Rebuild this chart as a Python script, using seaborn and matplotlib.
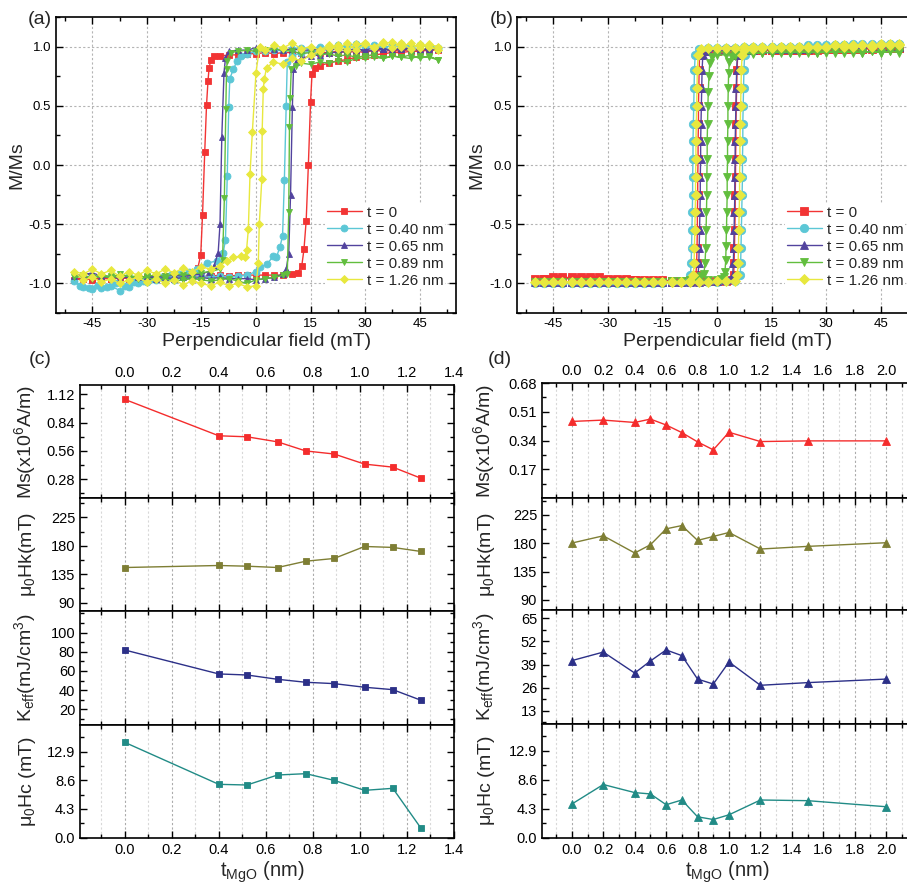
import matplotlib
matplotlib.use('Agg')
import matplotlib.pyplot as plt
import seaborn as sns
from matplotlib.ticker import MultipleLocator, FixedLocator, FormatStrFormatter

# ---------------- panel (a): loops, field in mT, M/Ms ----------------
A_RED_H = [50, 47.5, 45, 42.5, 40, 37.5, 35, 32.5, 30, 27.5, 25, 22.5, 20, 17.5, 15, 12.5, 10, 7.5, 5, 2.5, 0, -2.5, -5, -7.5, -10,
           -11.5, -12.4, -12.9, -13.2, -13.6, -14.1, -14.7, -15.2, -16,
           -17.5, -20, -22.5, -25, -27.5, -30, -32.5, -35, -37.5, -40, -42.5, -45, -47.5, -50,
           -47.5, -45, -42.5, -40, -37.5, -35, -32.5, -30, -27.5, -25, -22.5, -20, -17.5, -15, -12.5, -10, -7.5, -5, -2.5, 0, 2.5, 5, 7.5, 10,
           11.5, 12.6, 13.2, 13.8, 14.4, 15.0, 15.4, 16.3,
           17.5, 20, 22.5, 25, 27.5, 30, 32.5, 35, 37.5, 40, 42.5, 45, 47.5, 50]
A_RED_M = [0.98, 0.99, 0.97, 0.98, 0.96, 0.97, 0.96, 0.97, 0.95, 0.96, 0.95, 0.96, 0.95, 0.95, 0.96, 0.95, 0.95, 0.95, 0.94, 0.95, 0.94, 0.94, 0.93, 0.93, 0.92,
           0.92, 0.89, 0.82, 0.71, 0.51, 0.11, -0.42, -0.76, -0.87,
           -0.91, -0.93, -0.94, -0.95, -0.95, -0.96, -0.95, -0.96, -0.95, -0.96, -0.95, -0.96, -0.95, -0.97,
           -0.96, -0.97, -0.96, -0.96, -0.95, -0.96, -0.95, -0.95, -0.95, -0.94, -0.95, -0.94, -0.94, -0.94, -0.94, -0.93, -0.94, -0.93, -0.93, -0.93, -0.93, -0.93, -0.93, -0.92,
           -0.91, -0.85, -0.71, -0.47, 0.0, 0.53, 0.77, 0.82,
           0.84, 0.86, 0.88, 0.89, 0.91, 0.92, 0.93, 0.94, 0.95, 0.95, 0.96, 0.96, 0.97, 0.97]

A_CYAN_H = [50, 47.5, 45, 42.5, 40, 37.5, 35, 32.5, 30, 27.5, 25, 22.5, 20, 17.5, 15, 12.5, 10, 7.5, 5, 2.5, 0,
            -2.5, -4, -5.2, -6.2, -7.2, -7.5, -7.9, -8.4, -9.0, -10.8, -13.6, -16.3,
            -18.5, -21, -23.5, -26, -28.5, -31, -33.5, -36, -38.5, -41, -43.5, -46, -48.5, -50,
            -47.5, -45, -42.5, -40, -37.5, -35, -32.5, -30, -27.5, -25, -22.5, -20, -17.5, -15, -12.5, -10, -7.5, -5, -2.5, 0,
            1.1, 2.9, 4.8, 5.6, 6.6, 7.3, 7.8, 8.3, 8.6,
            10, 12.5, 15, 17.5, 20, 22.5, 25, 27.5, 30, 32.5, 35, 37.5, 40, 42.5, 45, 47.5, 50]
A_CYAN_M = [0.99, 1.0, 1.01, 0.99, 1.0, 1.01, 0.99, 1.0, 1.02, 0.99, 1.0, 1.01, 0.99, 1.0, 0.98, 0.99, 0.98, 0.97, 0.97, 0.96, 0.96,
            0.94, 0.92, 0.88, 0.81, 0.73, 0.49, -0.09, -0.63, -0.74, -0.81, -0.83, -0.88,
            -0.9, -0.92, -0.93, -0.95, -0.96, -0.98, -0.99, -1.02, -1.0, -1.03, -1.01, -1.04, -1.02, -0.98,
            -1.03, -1.05, -1.04, -1.02, -1.06, -1.03, -1.0, -0.99, -0.97, -0.96, -0.97, -0.95, -0.95, -0.94, -0.95, -0.94, -0.95, -0.94, -0.93, -0.9,
            -0.86, -0.84, -0.77, -0.78, -0.69, -0.6, -0.13, 0.5, 0.87,
            0.92, 0.95, 0.96, 0.97, 0.99, 1.0, 1.01, 1.02, 1.0, 1.01, 0.99, 1.01, 1.02, 1.0, 1.01, 1.0, 0.99]

A_PURPLE_H = [50, 47.5, 45, 42.5, 40, 37.5, 35, 32.5, 30, 27.5, 25, 22.5, 20, 17.5, 15, 12.5, 10, 7.5, 5, 2.5, 0, -2.5, -5, -7.5,
              -8.4, -8.8, -9.4, -9.9, -10.4, -11.5, -13,
              -15, -17.5, -20, -22.5, -25, -27.5, -30, -32.5, -35, -37.5, -40, -42.5, -45, -47.5, -50,
              -47.5, -45, -42.5, -40, -37.5, -35, -32.5, -30, -27.5, -25, -22.5, -20, -17.5, -15, -12.5, -10, -7.5, -5, -2.5, 0, 2.5, 5, 7.5,
              8.3, 9.0, 9.5, 10.0, 10.3, 11,
              12.5, 15, 17.5, 20, 22.5, 25, 27.5, 30, 32.5, 35, 37.5, 40, 42.5, 45, 47.5, 50]
A_PURPLE_M = [0.98, 0.99, 0.97, 0.98, 0.99, 0.97, 0.98, 0.99, 0.97, 0.98, 0.97, 0.98, 0.97, 0.98, 0.97, 0.97, 0.98, 0.97, 0.98, 0.98, 0.99, 0.97, 0.97, 0.96,
              0.9, 0.78, 0.24, -0.5, -0.74, -0.85, -0.9,
              -0.92, -0.93, -0.94, -0.93, -0.94, -0.94, -0.95, -0.94, -0.95, -0.93, -0.95, -0.94, -0.91, -0.93, -0.94,
              -0.92, -0.93, -0.95, -0.94, -0.96, -0.94, -0.95, -0.94, -0.96, -0.95, -0.96, -0.95, -0.96, -0.95, -0.96, -0.95, -0.96, -0.96, -0.96, -0.97, -0.96, -0.95, -0.92,
              -0.88, -0.75, -0.25, 0.49, 0.81, 0.87,
              0.9, 0.92, 0.93, 0.95, 0.95, 0.96, 0.97, 0.96, 0.97, 0.98, 0.97, 0.98, 0.97, 0.98, 0.97, 0.98]

A_GREEN_H = [50, 47.5, 45, 42.5, 40, 37.5, 35, 32.5, 30, 27.5, 25, 22.5, 20, 17.5, 15, 12.5, 10, 7.5, 5, 2.5, 0, -2.5, -5,
             -7, -7.9, -8.1, -8.3, -8.7, -9.2, -10,
             -12.5, -15, -17.5, -20, -22.5, -25, -27.5, -30, -32.5, -35, -37.5, -40, -42.5, -45, -47.5, -50,
             -47.5, -45, -42.5, -40, -37.5, -35, -32.5, -30, -27.5, -25, -22.5, -20, -17.5, -15, -12.5, -10, -7.5, -5, -2.5, 0, 2.5, 5, 7.5,
             8.6, 9.0, 9.2, 9.4, 9.7, 11,
             12.5, 15, 17.5, 20, 22.5, 25, 27.5, 30, 32.5, 35, 37.5, 40, 42.5, 45, 47.5, 50]
A_GREEN_M = [0.89, 0.92, 0.9, 0.93, 0.91, 0.92, 0.9, 0.93, 0.92, 0.91, 0.93, 0.92, 0.94, 0.93, 0.95, 0.94, 0.96, 0.97, 0.98, 0.97, 0.96, 0.97, 0.96,
             0.95, 0.88, 0.81, 0.47, -0.28, -0.8, -0.88,
             -0.9, -0.91, -0.92, -0.93, -0.92, -0.94, -0.93, -0.94, -0.95, -0.93, -0.95, -0.94, -0.93, -0.95, -0.94, -0.95,
             -0.93, -0.96, -0.94, -0.95, -0.92, -0.94, -0.96, -0.95, -0.97, -0.96, -0.98, -0.97, -0.96, -0.97, -0.98, -0.97, -0.96, -0.98, -1.0, -0.97, -0.96, -0.95, -0.93,
             -0.92, -0.4, 0.32, 0.57, 0.81, 0.84,
             0.86, 0.85, 0.87, 0.86, 0.88, 0.87, 0.9, 0.9, 0.91, 0.9, 0.92, 0.91, 0.9, 0.92, 0.91, 0.89]

A_YELLOW_H = [50, 47.5, 45, 42.5, 40, 37.5, 35, 32.5, 30, 27.5, 25, 22.5, 20, 17.5, 15, 12.5, 10, 7.5, 5, 2.5,
              1, 0, -1.0, -1.65, -2.1, -2.6, -3.0, -4.0, -6.2, -8,
              -10, -12.5, -15, -17.5, -20, -22.5, -25, -27.5, -30, -32.5, -35, -37.5, -40, -42.5, -45, -47.5, -50,
              -47.5, -45, -42.5, -40, -37.5, -35, -32.5, -30, -27.5, -25, -22.5, -20, -17.5, -15, -12.5, -10, -7.5, -5, -2.5, 0,
              0.64, 0.9, 1.6, 1.7, 2.0, 2.3, 2.9, 4.8,
              7.5, 10, 12.5, 15, 17.5, 20, 22.5, 25, 27.5, 30, 32.5, 35, 37.5, 40, 42.5, 45, 47.5, 50]
A_YELLOW_M = [0.97, 1.0, 1.02, 0.98, 1.03, 0.99, 1.04, 1.0, 1.02, 0.97, 1.03, 0.98, 1.01, 0.97, 1.0, 0.98, 1.03, 0.99, 1.01, 0.97,
              1.0, 0.78, 0.28, -0.08, -0.54, -0.72, -0.78, -0.77, -0.78, -0.81,
              -0.85, -0.88, -0.86, -0.9, -0.87, -0.91, -0.88, -0.92, -0.89, -0.93, -0.9, -0.94, -0.89, -0.92, -0.88, -0.92, -0.9,
              -0.97, -0.95, -0.99, -0.96, -1.0, -0.97, -0.95, -0.99, -0.96, -1.0, -0.97, -1.01, -0.98, -1.0, -1.02, -0.99, -1.02, -1.0, -1.03, -1.02,
              -0.83, -0.5, -0.12, 0.29, 0.64, 0.73, 0.82, 0.87,
              0.85, 0.9, 0.88, 0.93, 0.96, 0.99, 1.01, 0.97, 1.02, 1.03, 0.99, 1.02, 1.04, 1.0, 1.03, 0.99, 1.02, 1.0]

# ---------------- panel (b): loops ----------------
B_RED_H = [50, 47.5, 45, 42.5, 40, 37.5, 35, 32.5, 30, 27.5, 25, 22.5, 20, 17.5, 15, 12.5, 10, 7.5, 5, 2.5, 0, -2.5, -4,
           -4.8, -4.9, -5.0, -5.1, -5.1, -5.2, -5.2, -5.3, -5.3, -5.4, -5.4, -5.5, -5.6, -5.8,
           -6.5, -7.5, -10, -12.5, -15, -17.5, -20, -22.5, -25, -27.5, -30, -32.5, -35, -37.5, -40, -42.5, -45, -47.5, -50,
           -47.5, -45, -42.5, -40, -37.5, -35, -32.5, -30, -27.5, -25, -22.5, -20, -17.5, -15, -12.5, -10, -7.5, -5, -2.5, 0, 2.5, 4,
           4.6, 4.7, 4.8, 4.9, 5.0, 5.0, 5.1, 5.1, 5.2, 5.2, 5.3, 5.4, 5.5, 5.7,
           6.5, 7.5, 10, 12.5, 15, 17.5, 20, 22.5, 25, 27.5, 30, 32.5, 35, 37.5, 40, 42.5, 45, 47.5, 50]
B_RED_M = [0.99, 0.99, 0.99, 0.99, 0.98, 0.98, 0.98, 0.98, 0.98, 0.98, 0.97, 0.97, 0.97, 0.97, 0.97, 0.97, 0.97, 0.97, 0.97, 0.97, 0.96, 0.96, 0.96,
           0.93, 0.8, 0.65, 0.5, 0.35, 0.2, 0.05, -0.1, -0.25, -0.4, -0.55, -0.7, -0.83, -0.93,
           -0.98, -0.98, -0.98, -0.98, -0.97, -0.97, -0.97, -0.97, -0.96, -0.96, -0.96, -0.95, -0.95, -0.95, -0.95, -0.95, -0.95, -0.96, -0.96,
           -0.96, -0.96, -0.96, -0.96, -0.96, -0.96, -0.97, -0.97, -0.97, -0.97, -0.97, -0.98, -0.98, -0.98, -0.98, -0.98, -0.98, -0.98, -0.98, -0.98, -0.98, -0.97,
           -0.93, -0.83, -0.7, -0.55, -0.4, -0.25, -0.1, 0.05, 0.2, 0.35, 0.5, 0.65, 0.8, 0.93,
           0.96, 0.96, 0.97, 0.97, 0.97, 0.97, 0.97, 0.97, 0.97, 0.97, 0.98, 0.98, 0.98, 0.98, 0.98, 0.98, 0.99, 0.99, 0.99]

B_CYAN_H = [50, 47.5, 45, 42.5, 40, 37.5, 35, 32.5, 30, 27.5, 25, 22.5, 20, 17.5, 15, 12.5, 10, 7.5, 5, 2.5, 0, -2.5, -5,
            -6.0, -6.2, -6.3, -6.4, -6.5, -6.6, -6.6, -6.7, -6.7, -6.8, -6.9, -7.0, -7.1, -7.3,
            -8, -10, -12.5, -15, -17.5, -20, -22.5, -25, -27.5, -30, -32.5, -35, -37.5, -40, -42.5, -45, -47.5, -50,
            -47.5, -45, -42.5, -40, -37.5, -35, -32.5, -30, -27.5, -25, -22.5, -20, -17.5, -15, -12.5, -10, -7.5, -5, -2.5, 0, 2.5, 5,
            6.4, 6.5, 6.6, 6.7, 6.8, 6.9, 7.0, 7.0, 7.1, 7.1, 7.2, 7.3, 7.4, 7.6,
            8.5, 10, 12.5, 15, 17.5, 20, 22.5, 25, 27.5, 30, 32.5, 35, 37.5, 40, 42.5, 45, 47.5, 50]
B_CYAN_M = [1.02, 1.02, 1.01, 1.01, 1.01, 1.01, 1.01, 1.01, 1.0, 1.0, 1.0, 1.0, 1.0, 1.0, 1.0, 1.0, 1.0, 1.0, 0.99, 0.99, 0.99, 0.99, 0.98,
            0.93, 0.8, 0.65, 0.5, 0.35, 0.2, 0.05, -0.1, -0.25, -0.4, -0.55, -0.7, -0.83, -0.93,
            -0.99, -0.99, -0.99, -1.0, -1.0, -1.0, -1.0, -1.0, -1.0, -1.0, -1.0, -1.0, -1.0, -1.0, -1.0, -1.0, -1.0, -1.0,
            -1.0, -1.0, -1.0, -1.0, -1.0, -1.0, -1.0, -1.0, -1.0, -1.0, -1.0, -1.0, -1.0, -0.99, -0.99, -0.99, -0.99, -0.99, -0.99, -0.99, -0.98, -0.98,
            -0.93, -0.83, -0.7, -0.55, -0.4, -0.25, -0.1, 0.05, 0.2, 0.35, 0.5, 0.65, 0.8, 0.93,
            0.98, 0.99, 0.99, 1.0, 1.0, 1.0, 1.0, 1.01, 1.01, 1.01, 1.01, 1.01, 1.02, 1.02, 1.02, 1.02, 1.02, 1.02]

B_PURPLE_H = [50, 47.5, 45, 42.5, 40, 37.5, 35, 32.5, 30, 27.5, 25, 22.5, 20, 17.5, 15, 12.5, 10, 7.5, 5, 2.5, 0, -2.5,
              -3.9, -4.1, -4.2, -4.3, -4.4, -4.5, -4.5, -4.6, -4.6, -4.7, -4.8, -4.9, -5.0, -5.2,
              -6, -7.5, -10, -12.5, -15, -17.5, -20, -22.5, -25, -27.5, -30, -32.5, -35, -37.5, -40, -42.5, -45, -47.5, -50,
              -47.5, -45, -42.5, -40, -37.5, -35, -32.5, -30, -27.5, -25, -22.5, -20, -17.5, -15, -12.5, -10, -7.5, -5, -2.5, 0, 2.5,
              4.3, 4.5, 4.6, 4.7, 4.8, 4.9, 4.9, 5.0, 5.0, 5.1, 5.2, 5.3, 5.4, 5.6,
              6.5, 7.5, 10, 12.5, 15, 17.5, 20, 22.5, 25, 27.5, 30, 32.5, 35, 37.5, 40, 42.5, 45, 47.5, 50]
B_PURPLE_M = [1.0, 1.0, 1.0, 0.99, 0.99, 0.99, 0.99, 0.99, 0.99, 0.99, 0.98, 0.98, 0.98, 0.98, 0.98, 0.98, 0.98, 0.97, 0.97, 0.97, 0.97, 0.96,
              0.93, 0.8, 0.65, 0.5, 0.35, 0.2, 0.05, -0.1, -0.25, -0.4, -0.55, -0.7, -0.83, -0.93,
              -0.97, -0.98, -0.99, -0.99, -0.99, -0.99, -0.99, -0.99, -0.99, -0.99, -0.99, -0.99, -0.99, -0.99, -0.99, -0.99, -0.99, -0.99, -0.99,
              -0.99, -0.99, -0.99, -0.99, -0.99, -0.99, -0.99, -0.99, -0.99, -0.99, -0.99, -0.99, -0.99, -0.99, -0.99, -0.99, -0.99, -0.99, -0.98, -0.98, -0.97,
              -0.93, -0.83, -0.7, -0.55, -0.4, -0.25, -0.1, 0.05, 0.2, 0.35, 0.5, 0.65, 0.8, 0.93,
              0.96, 0.97, 0.97, 0.98, 0.98, 0.98, 0.98, 0.98, 0.99, 0.99, 0.99, 0.99, 0.99, 0.99, 0.99, 1.0, 1.0, 1.0, 1.0]

B_GREEN_H = [50, 47.5, 45, 42.5, 40, 37.5, 35, 32.5, 30, 27.5, 25, 22.5, 20, 17.5, 15, 12.5, 10, 7.5, 5, 2.5, 0, -1.5,
             -2.0, -2.2, -2.4, -2.5, -2.6, -2.7, -2.7, -2.8, -2.8, -2.9, -3.0, -3.1, -3.3, -3.6,
             -4.5, -6, -7.5, -10, -12.5, -15, -17.5, -20, -22.5, -25, -27.5, -30, -32.5, -35, -37.5, -40, -42.5, -45, -47.5, -50,
             -47.5, -45, -42.5, -40, -37.5, -35, -32.5, -30, -27.5, -25, -22.5, -20, -17.5, -15, -12.5, -10, -7.5, -5, -2.5, 0, 1, 1.8,
             2.2, 2.4, 2.5, 2.6, 2.7, 2.8, 2.8, 2.9, 2.9, 3.0, 3.0, 3.1, 3.2, 3.4,
             4, 5, 6.5, 7.5, 10, 12.5, 15, 17.5, 20, 22.5, 25, 27.5, 30, 32.5, 35, 37.5, 40, 42.5, 45, 47.5, 50]
B_GREEN_M = [0.96, 0.96, 0.95, 0.96, 0.95, 0.96, 0.95, 0.96, 0.95, 0.95, 0.96, 0.95, 0.95, 0.96, 0.95, 0.95, 0.95, 0.94, 0.94, 0.93, 0.93, 0.91,
             0.86, 0.75, 0.62, 0.5, 0.35, 0.2, 0.05, -0.1, -0.25, -0.4, -0.55, -0.7, -0.83, -0.92,
             -0.94, -0.96, -0.97, -0.98, -0.99, -0.99, -0.99, -0.99, -0.99, -0.99, -0.99, -0.99, -0.99, -0.99, -0.99, -0.99, -0.99, -0.99, -0.99, -0.99,
             -0.99, -0.99, -0.99, -0.99, -0.99, -0.99, -0.99, -0.99, -0.99, -0.99, -0.99, -0.99, -0.99, -0.99, -0.98, -0.98, -0.98, -0.97, -0.97, -0.97, -0.96, -0.95,
             -0.9, -0.8, -0.68, -0.55, -0.4, -0.25, -0.1, 0.05, 0.2, 0.35, 0.5, 0.65, 0.78, 0.87,
             0.91, 0.92, 0.93, 0.94, 0.94, 0.95, 0.95, 0.95, 0.95, 0.96, 0.95, 0.95, 0.96, 0.95, 0.96, 0.95, 0.95, 0.96, 0.95, 0.96, 0.95]

B_YELLOW_H = [50, 47.5, 45, 42.5, 40, 37.5, 35, 32.5, 30, 27.5, 25, 22.5, 20, 17.5, 15, 12.5, 10, 7.5, 5, 2.5, 0, -2.5, -4.5,
              -5.2, -5.4, -5.5, -5.6, -5.7, -5.8, -5.8, -5.9, -5.9, -6.0, -6.1, -6.2, -6.3, -6.5,
              -7.5, -10, -12.5, -15, -17.5, -20, -22.5, -25, -27.5, -30, -32.5, -35, -37.5, -40, -42.5, -45, -47.5, -50,
              -47.5, -45, -42.5, -40, -37.5, -35, -32.5, -30, -27.5, -25, -22.5, -20, -17.5, -15, -12.5, -10, -7.5, -5, -2.5, 0, 2.5, 5,
              5.6, 5.8, 5.9, 6.0, 6.1, 6.2, 6.2, 6.3, 6.3, 6.4, 6.5, 6.6, 6.7, 6.9,
              7.5, 10, 12.5, 15, 17.5, 20, 22.5, 25, 27.5, 30, 32.5, 35, 37.5, 40, 42.5, 45, 47.5, 50]
B_YELLOW_M = [1.01, 1.01, 1.01, 1.0, 1.01, 1.0, 1.0, 1.01, 1.0, 1.0, 1.0, 1.0, 1.0, 1.0, 1.0, 1.0, 1.0, 1.0, 0.99, 0.99, 0.99, 0.99, 0.98,
              0.93, 0.8, 0.65, 0.5, 0.35, 0.2, 0.05, -0.1, -0.25, -0.4, -0.55, -0.7, -0.83, -0.93,
              -0.98, -0.99, -0.99, -0.99, -0.99, -0.99, -0.99, -0.99, -0.99, -0.99, -0.99, -0.99, -0.99, -0.99, -0.99, -0.99, -0.99, -0.99,
              -0.99, -0.99, -0.99, -0.99, -0.99, -0.99, -0.99, -0.99, -0.99, -0.99, -0.99, -0.99, -0.99, -0.99, -0.99, -0.99, -0.99, -0.99, -0.99, -0.98, -0.98, -0.98,
              -0.93, -0.83, -0.7, -0.55, -0.4, -0.25, -0.1, 0.05, 0.2, 0.35, 0.5, 0.65, 0.8, 0.93,
              0.97, 0.98, 0.99, 0.99, 1.0, 1.0, 1.0, 1.0, 1.0, 1.0, 1.01, 1.01, 1.01, 1.01, 1.01, 1.02, 1.02, 1.02]

LOOP_LABELS = ['t = 0', 't = 0.40 nm', 't = 0.65 nm', 't = 0.89 nm', 't = 1.26 nm']
LOOP_COLORS = ['#f23434', '#5cc7d6', '#52439e', '#62be3e', '#e8e83e']
LOOP_MARKERS = ['s', 'o', '^', 'v', 'D']

# ---------------- panel (c) ----------------
C_T = [0, 0.40, 0.52, 0.65, 0.77, 0.89, 1.02, 1.14, 1.26]
C_MS = [1.07, 0.71, 0.70, 0.65, 0.56, 0.53, 0.43, 0.40, 0.29]
C_HK = [145.6, 148.8, 147.7, 145.6, 155.6, 159.9, 178.9, 177.4, 171.0]
C_KEFF = [81.9, 56.9, 55.8, 51.3, 48.2, 46.8, 43.0, 40.5, 29.4]
C_HC = [14.3, 8.0, 7.9, 9.4, 9.6, 8.6, 7.1, 7.4, 1.4]

# ---------------- panel (d) ----------------
D_T = [0, 0.2, 0.4, 0.5, 0.6, 0.7, 0.8, 0.9, 1.0, 1.2, 1.5, 2.0]
D_MS = [0.453, 0.461, 0.447, 0.467, 0.432, 0.387, 0.332, 0.285, 0.389, 0.334, 0.338, 0.338]
D_HK = [180.4, 191.9, 164.6, 177.7, 203.0, 208.2, 184.6, 190.9, 197.2, 170.9, 175.1, 180.9]
D_KEFF = [41.2, 46.0, 34.2, 41.0, 47.2, 44.0, 30.8, 28.0, 40.4, 27.3, 28.8, 30.8]
D_HC = [5.0, 7.9, 6.7, 6.5, 4.9, 5.6, 3.1, 2.7, 3.4, 5.6, 5.5, 4.6]

ROW_COLORS = ['#f42c2c', '#7e7e34', '#2c3088', '#218b86']
ROW_LABELS = ['Ms(x10$^6$A/m)', 'μ$_0$Hk(mT)', 'K$_{eff}$(mJ/cm$^3$)', 'μ$_0$Hc (mT)']

sns.set_style('ticks')
plt.rcParams['font.family'] = ['Liberation Sans', 'DejaVu Sans']
plt.rcParams['mathtext.default'] = 'regular'
plt.rcParams['axes.unicode_minus'] = False

W, H = 907, 884
fig = plt.figure(figsize=(W / 100, H / 100), dpi=100)


def rect(x0, y0, x1, y1):
    # pixel box -> figure fraction
    return [x0 / W, 1 - y1 / H, (x1 - x0) / W, (y1 - y0) / H]


def style_axes(ax, size):
    for s in ax.spines.values():
        s.set_linewidth(1.2)
        s.set_color('black')
    ax.tick_params(which='both', direction='in', top=True, right=True, width=1.0,
                   labelsize=size, colors='black')
    ax.tick_params(which='major', length=5)
    ax.tick_params(which='minor', length=3)
    ax.set_axisbelow(True)


def loop_panel(box, loops, ms, legend_xy, ylab_x):
    ax = fig.add_axes(rect(*box))
    for (h, m), c, mk, lab in zip(loops, LOOP_COLORS, LOOP_MARKERS, LOOP_LABELS):
        sns.lineplot(x=h, y=m, ax=ax, sort=False, estimator=None, color=c, marker=mk,
                     markersize=ms if mk != 'D' else ms - 0.5, markeredgecolor=c,
                     markeredgewidth=0.6, linewidth=1.0, label=lab, legend=False)
    ax.set_xlim(-55, 55)
    ax.set_ylim(-1.25, 1.25)
    ax.xaxis.set_major_locator(MultipleLocator(15))
    ax.xaxis.set_minor_locator(MultipleLocator(7.5))
    ax.yaxis.set_major_locator(MultipleLocator(0.5))
    ax.yaxis.set_minor_locator(MultipleLocator(0.25))
    ax.yaxis.set_major_formatter(FormatStrFormatter('%.1f'))
    ax.grid(True, which='major', linestyle=(0, (2, 2)), color='#b4b4b4', linewidth=0.8)
    style_axes(ax, 9.5)
    ax.set_xlabel('Perpendicular field (mT)', fontsize=14)
    ax.xaxis.set_label_coords(0.527, -0.068)
    ax.set_ylabel('M/Ms', fontsize=14)
    ax.yaxis.set_label_coords(ylab_x, 0.5)
    ax.legend(loc='upper left', bbox_to_anchor=(legend_xy[0] / W, 1 - legend_xy[1] / H),
              bbox_transform=fig.transFigure, frameon=True, facecolor='white',
              edgecolor='none', framealpha=1, fancybox=False, fontsize=11,
              handlelength=2.3, handletextpad=0.35, labelspacing=0.2,
              borderpad=0.1, borderaxespad=0)
    return ax


loop_panel((56, 17, 456, 313),
           [(A_RED_H, A_RED_M), (A_CYAN_H, A_CYAN_M), (A_PURPLE_H, A_PURPLE_M),
            (A_GREEN_H, A_GREEN_M), (A_YELLOW_H, A_YELLOW_M)],
           5, (325, 204), -0.0775)
loop_panel((517, 17, 917, 313),
           [(B_RED_H, B_RED_M), (B_CYAN_H, B_CYAN_M), (B_PURPLE_H, B_PURPLE_M),
            (B_GREEN_H, B_GREEN_M), (B_YELLOW_H, B_YELLOW_M)],
           6, (785, 204), -0.08)


def stack_panel(x0, x1, edges, xlim, xt, rows, marker, ms, ylab_x, xlab_x):
    axes = []
    for i, (vals, ylim, ticks, minor, fmt) in enumerate(rows):
        ax = fig.add_axes(rect(x0, edges[i], x1, edges[i + 1]))
        sns.lineplot(x=xt, y=vals, ax=ax, sort=False, estimator=None, color=ROW_COLORS[i],
                     marker=marker, markersize=ms, markeredgecolor=ROW_COLORS[i],
                     markeredgewidth=0.6, linewidth=1.0, legend=False)
        ax.set_xlim(*xlim)
        ax.set_ylim(*ylim)
        ax.xaxis.set_major_locator(MultipleLocator(0.2))
        ax.xaxis.set_minor_locator(MultipleLocator(0.1))
        ax.xaxis.set_major_formatter(FormatStrFormatter('%.1f'))
        ax.yaxis.set_major_locator(FixedLocator(ticks))
        ax.yaxis.set_minor_locator(MultipleLocator(minor))
        ax.yaxis.set_major_formatter(FormatStrFormatter(fmt))
        ax.xaxis.grid(True, which='major', linestyle=(0, (2, 2)), color='#ababab', linewidth=0.8)
        ax.xaxis.grid(True, which='minor', linestyle=(0, (2, 2)), color='#d8d8d8', linewidth=0.8)
        ax.yaxis.grid(False)
        style_axes(ax, 10.5)
        ax.tick_params(axis='x', labeltop=(i == 0), labelbottom=(i == len(rows) - 1))
        ax.set_ylabel(ROW_LABELS[i], fontsize=14)
        ax.yaxis.set_label_coords(ylab_x, 0.5)
        axes.append(ax)
    axes[-1].set_xlabel('t$_{MgO}$ (nm)', fontsize=14.5)
    axes[-1].xaxis.set_label_coords(xlab_x, -0.19)
    return axes


stack_panel(80, 454, [385, 498, 611, 725, 838], (-0.19, 1.40), C_T,
            [(C_MS, (0.095, 1.212), [0.28, 0.56, 0.84, 1.12], 0.14, '%.2f'),
             (C_HK, (76.8, 255.6), [90, 135, 180, 225], 22.5, '%.0f'),
             (C_KEFF, (3.6, 122.6), [20, 40, 60, 80, 100], 10, '%.0f'),
             (C_HC, (-0.05, 16.9), [0.0, 4.3, 8.6, 12.9], 2.15, '%.1f')],
            's', 5, -0.113, 0.487)
stack_panel(542, 916, [383, 498, 610, 724, 838], (-0.19, 2.19), D_T,
            [(D_MS, (0.0, 0.6805), [0.17, 0.34, 0.51, 0.68], 0.085, '%.2f'),
             (D_HK, (74, 252), [90, 135, 180, 225], 22.5, '%.0f'),
             (D_KEFF, (5.5, 69.7), [13, 26, 39, 52, 65], 6.5, '%.0f'),
             (D_HC, (-0.05, 16.9), [0.0, 4.3, 8.6, 12.9], 2.15, '%.1f')],
            '^', 6, -0.12, 0.495)

for lab, x, y in [('(a)', 40, 20), ('(b)', 502, 20), ('(c)', 40, 360), ('(d)', 500, 360)]:
    fig.text(x / W, 1 - y / H, lab, fontsize=14, ha='center', va='center')

fig.savefig('out.png', dpi=100)
